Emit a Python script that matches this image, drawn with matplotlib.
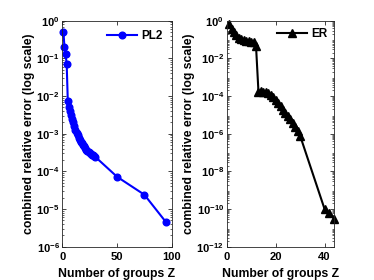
import numpy as np
import matplotlib
matplotlib.use("Agg")
import matplotlib.pyplot as plt
from matplotlib.ticker import LogLocator, FixedLocator, NullFormatter

# PL2 series (left panel)
pl2Groups = [1, 2, 3, 4, 5, 6, 7, 8, 9, 10, 11, 12, 13, 14, 15, 16, 17, 18, 19, 20,
             21, 22, 23, 24, 25, 26, 27, 28, 29, 30, 50, 75, 95]
pl2Error  = [0.51, 0.195, 0.128, 0.071, 0.0075, 0.0052, 3.98e-3, 3.16e-3, 2.51e-3, 2.0e-3,
             1.58e-3, 1.29e-3, 1.07e-3, 9.1e-4, 7.9e-4, 6.9e-4, 6.2e-4, 5.5e-4, 5.0e-4, 4.6e-4,
             4.2e-4, 3.8e-4, 3.55e-4, 3.3e-4, 3.1e-4, 2.95e-4, 2.8e-4, 2.7e-4, 2.57e-4, 2.45e-4,
             7.2e-5, 2.4e-5, 4.4e-6]

# ER series (right panel)
erGroups = [1, 2, 3, 4, 5, 6, 7, 8, 9, 10, 11, 12, 13, 14, 15, 16, 17, 18, 19, 20,
            21, 22, 23, 24, 25, 26, 27, 28, 29, 30, 40, 42, 44]
erError  = [0.71, 0.35, 0.24, 0.166, 0.126, 0.107, 0.098, 0.089, 0.081, 0.076,
            0.071, 0.045, 1.66e-4, 1.82e-4, 1.74e-4, 1.62e-4, 1.45e-4, 1.20e-4, 8.9e-5, 6.3e-5,
            4.2e-5, 2.8e-5, 1.9e-5, 1.32e-5, 8.9e-6, 6.0e-6, 3.8e-6, 2.4e-6, 1.41e-6, 7.9e-7,
            1.0e-10, 6.3e-11, 2.8e-11]

xLabel = "Number of groups Z"
yLabel = "combined relative error (log scale)"

plt.rcParams["font.family"]      = ["Liberation Sans", "DejaVu Sans"]
plt.rcParams["font.weight"]      = "bold"
plt.rcParams["mathtext.fontset"] = "custom"
plt.rcParams["mathtext.rm"]      = "Liberation Sans:bold"
plt.rcParams["mathtext.it"]      = "Liberation Sans:bold"
plt.rcParams["mathtext.bf"]      = "Liberation Sans:bold"
plt.rcParams["mathtext.default"] = "rm"
plt.rcParams["font.size"]        = 8

figure = plt.figure(figsize=(3.74, 2.8), dpi=100)
axesLeft  = figure.add_axes([0.1666, 0.119, 0.2925, 0.807])
axesRight = figure.add_axes([0.606, 0.119, 0.288, 0.807])


def Style(axes, xlim, ylim, xticks, yexps):
    axes.set_yscale("log")
    axes.set_xlim(xlim)
    axes.set_ylim(ylim)
    axes.xaxis.set_major_locator(FixedLocator(xticks))
    axes.yaxis.set_major_locator(FixedLocator([10.0**e for e in yexps]))
    axes.yaxis.set_major_formatter(plt.FuncFormatter(lambda v, p: "$10^{%d}$" % round(np.log10(v))))
    axes.yaxis.set_minor_locator(LogLocator(base=10, subs=np.arange(2, 10), numticks=30))
    axes.yaxis.set_minor_formatter(NullFormatter())
    axes.tick_params(which="both", direction="in", top=True, right=True, colors="0.15",
                     labelcolor="black", labelsize=8, pad=2)
    axes.tick_params(axis="x", which="major", pad=4)
    axes.tick_params(which="major", length=3, width=0.6)
    axes.tick_params(which="minor", length=1.5, width=0.5)
    for spine in axes.spines.values():
        spine.set_linewidth(0.6)
        spine.set_color("0.15")
    axes.set_xlabel(xLabel, fontsize=8.8, fontweight="bold", labelpad=4)
    axes.set_ylabel(yLabel, fontsize=8.8, fontweight="bold", labelpad=1)


axesLeft.plot(pl2Groups, pl2Error, color="blue", linewidth=1.5, marker="o", markersize=4.8,
              label="PL2", clip_on=False)
Style(axesLeft, (0, 100), (1e-6, 1), [0, 50, 100], range(-6, 1))
axesLeft.legend(loc="upper right", frameon=False, fontsize=8.5, handlelength=2.6,
                handletextpad=0.3, borderaxespad=0.4)

axesRight.plot(erGroups, erError, color="black", linewidth=1.5, marker="^", markersize=5.5,
               label="ER", clip_on=False)
Style(axesRight, (0, 44), (1e-12, 1), [0, 20, 40], range(-12, 1, 2))
axesRight.legend(loc="upper right", frameon=False, fontsize=8.5, handlelength=2.6,
                 handletextpad=0.3, borderaxespad=0.2)

figure.savefig("out.png", dpi=100)
